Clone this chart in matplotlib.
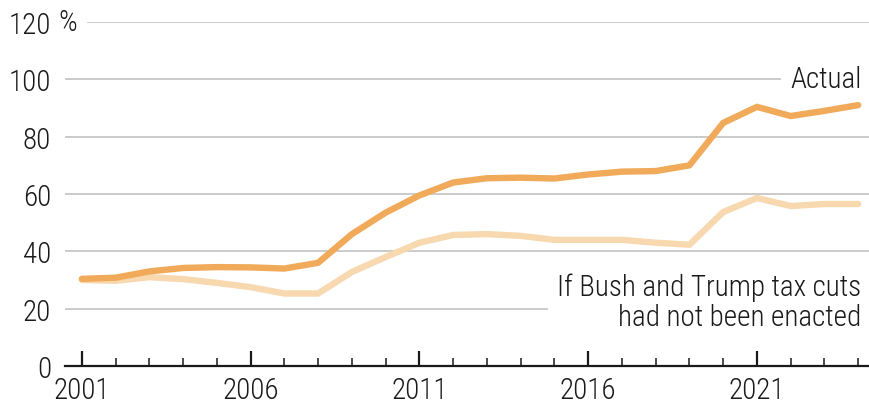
import matplotlib
matplotlib.use("Agg")
import matplotlib.pyplot as plt

plt.rcParams['font.family'] = ['Roboto Condensed', 'DejaVu Sans']
plt.rcParams['font.weight'] = 'light'

years = list(range(2001, 2025))
actual = [30.4, 30.8, 33.0, 34.2, 34.5, 34.4, 34.0, 36.0, 46.0, 53.5, 59.5, 64.0, 65.5,
          65.7, 65.4, 66.8, 67.8, 68.0, 70.0, 84.8, 90.4, 87.2, 89.0, 91.0]
no_tax_cuts = [30.0, 29.7, 31.0, 30.3, 29.0, 27.5, 25.3, 25.3, 32.8, 38.0, 43.0, 45.7, 46.0,
               45.4, 44.0, 44.0, 44.0, 43.0, 42.3, 53.7, 58.6, 55.8, 56.5, 56.5]
y_ticks = [0, 20, 40, 60, 80, 100, 120]
x_labels = [2001, 2006, 2011, 2016, 2021]

fs = 21
fig = plt.figure(figsize=(8.7, 4.06), dpi=100)
ax = fig.add_axes([65 / 870, 39 / 406, 805 / 870, (367 - 23) / 406])

ax.set_xlim(2000.5, 2024.35)
ax.set_ylim(0, 120)

# gridlines (120 line starts after the "%" sign)
for v in y_ticks[1:]:
    start = (88 - 65) / 805 if v == 120 else 0
    ax.axhline(v, xmin=start, xmax=1, color='#BDBDBD', lw=1.1, zorder=1)

ax.plot(years, no_tax_cuts, color='#F8D8AF', lw=4.6, solid_capstyle='round',
        solid_joinstyle='round', zorder=3)
ax.plot(years, actual, color='#F0AA5A', lw=4.6, solid_capstyle='round',
        solid_joinstyle='round', zorder=4)

bbox = dict(facecolor='white', edgecolor='none', pad=7)
ax.text(2024.1, 100, 'Actual', ha='right', va='center', fontsize=fs,
        color='#1a1a1a', bbox=bbox, zorder=2)
ax.text(2024.1, 22.5, 'If Bush and Trump tax cuts\nhad not been enacted', ha='right',
        va='center', fontsize=fs, color='#1a1a1a', linespacing=1.1, bbox=bbox, zorder=2)

for s in ['top', 'right', 'left']:
    ax.spines[s].set_visible(False)
ax.spines['bottom'].set_color('#1a1a1a')
ax.spines['bottom'].set_linewidth(1.6)

ax.set_yticks(y_ticks)
ax.set_yticklabels([str(v) for v in y_ticks])
ax.tick_params(axis='y', length=0, pad=10, labelsize=fs, labelcolor='#1a1a1a')
ax.text(3 / 805, 120, '%', transform=ax.get_yaxis_transform(), ha='center', va='center',
        fontsize=fs, color='#1a1a1a')

ax.set_xticks(x_labels)
ax.set_xticklabels([str(v) for v in x_labels])
ax.set_xticks(years, minor=True)
ax.tick_params(axis='x', which='major', direction='in', length=11, width=1.6,
               pad=7, labelsize=fs, labelcolor='#1a1a1a', color='#1a1a1a')
ax.tick_params(axis='x', which='minor', direction='in', length=6, width=1.1, color='#1a1a1a')

fig.savefig('out.png', dpi=100)
